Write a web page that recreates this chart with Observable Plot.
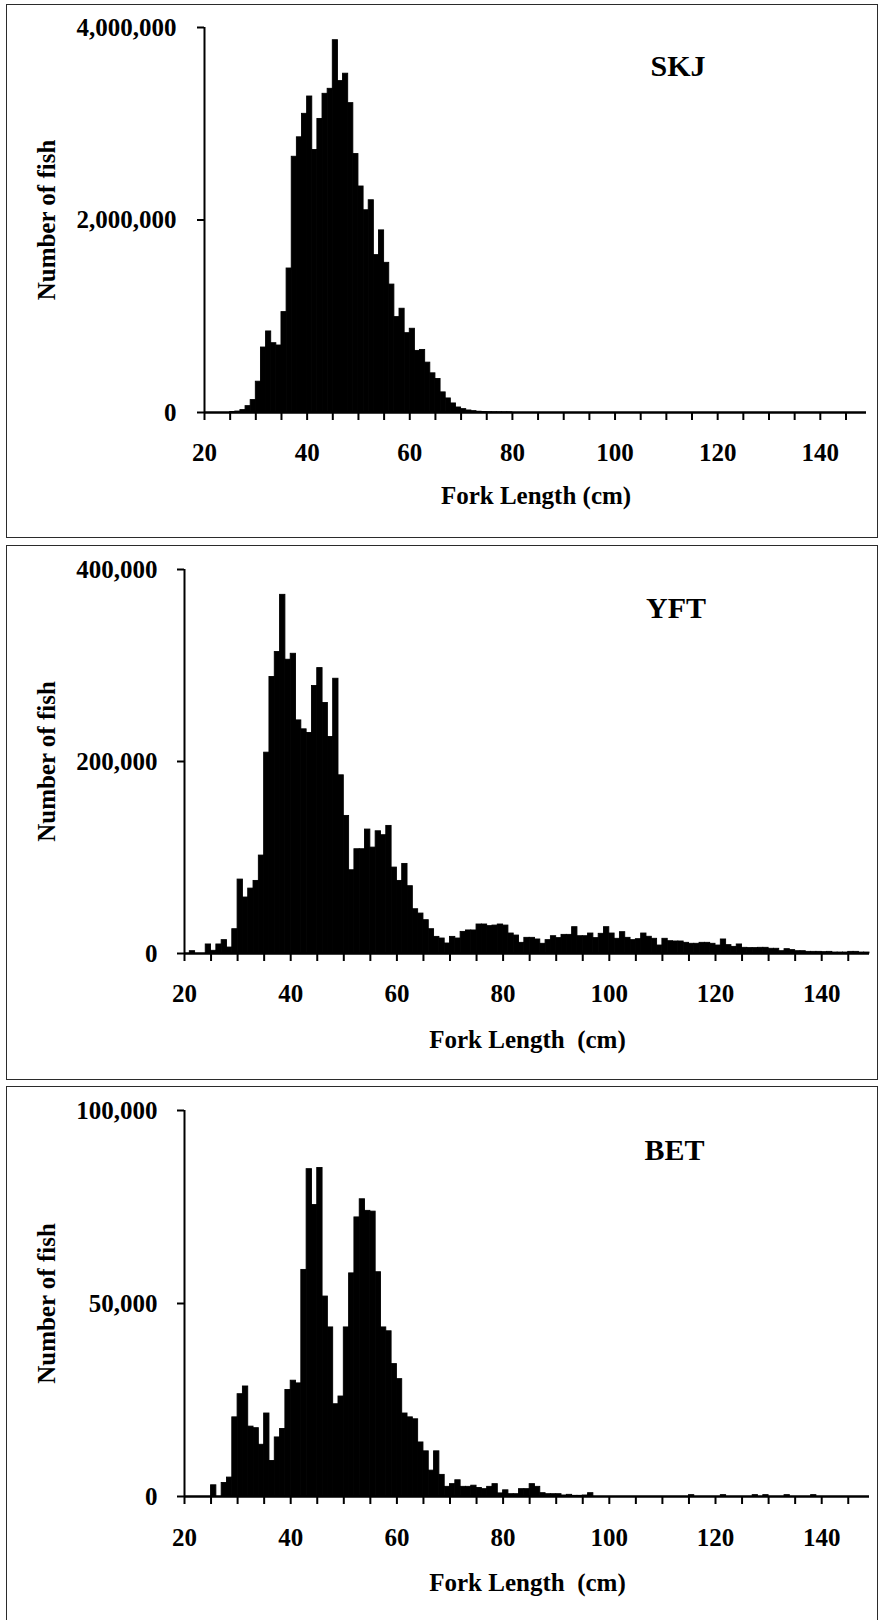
<!DOCTYPE html>
<html><head><meta charset="utf-8">
<script src="https://cdn.jsdelivr.net/npm/d3@7"></script>
<script src="https://cdn.jsdelivr.net/npm/@observablehq/plot@0.6"></script>
<style>
html,body{margin:0;padding:0;background:#fff;}
#page{position:relative;width:881px;height:1620px;overflow:hidden;background:#fff;}
.box{position:absolute;border:1.5px solid #2b2b2b;box-sizing:border-box;}
</style></head><body><div id="page"></div>
<script>
// ---- data (counts per 1-cm fork-length bin, first bin = 20 cm) ----
const firstLength = 20;
const skjCounts = [
  0,0,0,0,0,
  5000,10000,25000,66000,129000,
  320000,675000,842000,720000,696000,
  1043000,1496000,2657000,2859000,3103000,
  3283000,2727000,3050000,3311000,3363000,
  3868000,3443000,3520000,3214000,2685000,
  2348000,2101000,2205000,1635000,1892000,
  1555000,1329000,991000,1078000,824000,
  870000,640000,650000,518000,407000,
  348000,209000,146000,94000,52000,
  35000,21000,14000,8000,5000,
  3000,2000,1500,1000,1000
];
const yftCounts = [
  0,2400,0,0,9400,
  2800,9400,13900,6200,25300,
  77000,58300,67600,75600,102000,
  209200,288000,314000,373600,306000,
  312200,242800,233500,229700,278600,
  297300,260900,225500,286200,185600,
  143300,86700,108600,108600,129100,
  110300,127300,123200,132900,89500,
  75600,93300,70100,46100,41600,
  34700,25300,17300,15600,10400,
  17300,15600,22500,24000,24000,
  30200,30200,28500,29100,30200,
  29100,20800,18700,11100,16300,
  16300,14600,10100,13900,18000,
  16000,19400,19400,27400,18000,
  18000,20800,16000,20500,27400,
  20800,15300,22200,16300,13900,
  14900,20800,17400,15300,8300,
  15300,12800,12500,12500,11100,
  10100,10100,11100,11100,10100,
  8300,14600,8700,6900,9400,
  5900,5600,5600,5900,5900,
  4900,4900,2400,4500,3500,
  2400,2400,1700,1700,1700,
  1400,1700,1000,1000,1000,
  1700,1700,1000,1000
];
const betCounts = [
  0,0,0,0,0,
  2900,0,3500,4900,20500,
  26500,28500,18100,17700,13400,
  21500,9200,15300,17500,27600,
  30000,29300,58700,84800,75500,
  85100,51800,43800,23900,25900,
  43800,57800,72300,77000,74000,
  73800,58100,43800,42800,34300,
  30400,21500,20500,20000,14000,
  11700,6700,11700,5600,2500,
  3200,4200,2500,2500,2800,
  2200,1900,2500,3200,800,
  1600,600,600,1900,1900,
  3200,2500,860,600,600,
  600,260,430,170,170,
  260,860,0,0,0,
  0,0,0,0,0,
  0,0,0,0,0,
  0,0,0,0,0,
  350,0,0,0,0,
  0,350,0,0,0,
  0,0,350,0,350,
  0,0,0,350,0,
  0,0,0,350
];
const speciesNames = ["SKJ", "YFT", "BET"];
const xTickValues = [20,25,30,35,40,45,50,55,60,65,70,75,80,85,90,95,100,105,110,115,120,125,130,135,140,145];
const xLabelValues = [20,40,60,80,100,120,140];
const xDomain = [20, 149];
const skjYTicks = [0, 2000000, 4000000];
const yftYTicks = [0, 200000, 400000];
const betYTicks = [0, 50000, 100000];
const yTitle = "Number of fish";
const xTitles = ["Fork Length (cm)", "Fork Length  (cm)", "Fork Length  (cm)"];

// ---- layout ----
const panels = [
  {counts: skjCounts, yTicks: skjYTicks, name: speciesNames[0], xTitle: xTitles[0],
   box: {l: 6, t: 4, w: 872, h: 534},
   svg: {l: 7, t: 5, h: 531}, m: {l: 197, r: 11, t: 22, b: 124},
   yPad: 21, xPad: 31, nameDx: 473.5, nameDy: 39, yTitleDx: -158, xTitleDx: 331.5, xTitleDy: 83},
  {counts: yftCounts, yTicks: yftYTicks, name: speciesNames[1], xTitle: xTitles[1],
   box: {l: 6, t: 545, w: 872, h: 535},
   svg: {l: 7, t: 546, h: 533}, m: {l: 177, r: 8, t: 23, b: 126},
   yPad: 20, xPad: 31, nameDx: 491.5, nameDy: 38.5, yTitleDx: -138, xTitleDx: 343, xTitleDy: 86},
  {counts: betCounts, yTicks: betYTicks, name: speciesNames[2], xTitle: xTitles[2],
   box: {l: 6, t: 1086, w: 872, h: 545},
   svg: {l: 7, t: 1087, h: 533}, m: {l: 177, r: 8, t: 23, b: 124},
   yPad: 20, xPad: 32, nameDx: 490, nameDy: 39.5, yTitleDx: -138, xTitleDx: 343, xTitleDy: 86}
];

const page = document.getElementById("page");
const fmt = d3.format(",");

for (const p of panels) {
  const box = document.createElement("div");
  box.className = "box";
  Object.assign(box.style, {left: p.box.l + "px", top: p.box.t + "px", width: p.box.w + "px", height: p.box.h + "px"});
  page.appendChild(box);

  const rows = p.counts.map((n, i) => ({x1: firstLength + i, x2: firstLength + i + 1, y1: 0, n}))
    .filter(d => d.n > 0);
  const yMax = p.yTicks[p.yTicks.length - 1];

  const chart = Plot.plot({
    width: 870,
    height: p.svg.h,
    marginLeft: p.m.l, marginRight: p.m.r, marginTop: p.m.t, marginBottom: p.m.b,
    x: {type: "linear", domain: xDomain},
    y: {type: "linear", domain: [0, yMax]},
    style: {fontFamily: "'Liberation Serif','Times New Roman',serif", fontSize: "25px", fontWeight: "bold", color: "black", background: "transparent", overflow: "visible"},
    marks: [
      Plot.rect(rows, {x1: "x1", x2: "x2", y1: "y1", y2: "n", fill: "black", stroke: "black", strokeWidth: 0.9}),
      Plot.ruleY([0], {x1: xDomain[0], x2: xDomain[1], stroke: "black", strokeWidth: 2.4}),
      Plot.ruleX([xDomain[0]], {y1: 0, y2: yMax, stroke: "black", strokeWidth: 2}),
      Plot.axisY({ticks: p.yTicks, tickSize: 7, tickPadding: p.yPad, tickFormat: fmt, strokeWidth: 2, label: null, fill: "black"}),
      Plot.axisX({ticks: xTickValues, tickSize: 8, tickFormat: () => "", strokeWidth: 2, label: null}),
      Plot.axisX({ticks: xLabelValues, tickSize: 0, tickPadding: p.xPad, tickFormat: d => String(d), label: null, fill: "black"}),
      Plot.text([p.name], {frameAnchor: "top-left", dx: p.nameDx, dy: p.nameDy, textAnchor: "middle", lineAnchor: "middle", fontSize: 30, fill: "black"}),
      Plot.text([yTitle], {frameAnchor: "left", rotate: -90, dx: p.yTitleDx, textAnchor: "middle", lineAnchor: "middle", fill: "black"}),
      Plot.text([p.xTitle], {frameAnchor: "bottom-left", dx: p.xTitleDx, dy: p.xTitleDy, textAnchor: "middle", lineAnchor: "middle", fill: "black"})
    ]
  });
  chart.style.position = "absolute";
  chart.style.left = p.svg.l + "px";
  chart.style.top = p.svg.t + "px";
  page.appendChild(chart);
}
</script>
</body></html>
